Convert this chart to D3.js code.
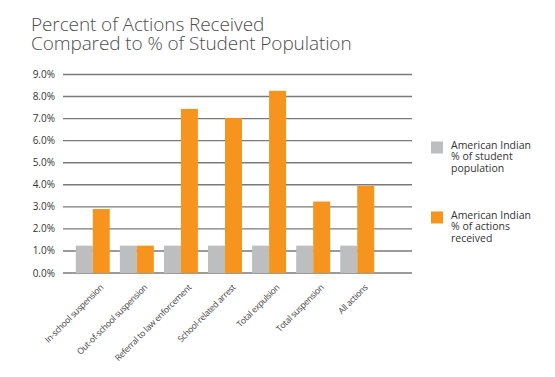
<!DOCTYPE html>
<html>
<head>
<meta charset="utf-8">
<script src="https://cdn.jsdelivr.net/npm/d3@7"></script>
<style>
  body { margin: 0; background: #fff; }
  svg text { font-family: "Open Sans", "Noto Sans", sans-serif; }
</style>
</head>
<body>
<div id="chart"></div>
<script>
// data
const categories = ["In-school suspension", "Out-of-school suspension", "Referral to law enforcement",
  "School-related arrest", "Total expulsion", "Total suspension", "All actions"];
const studentPct = [1.24, 1.24, 1.24, 1.24, 1.24, 1.24, 1.24];
const actionsPct = [2.9, 1.24, 7.44, 7.03, 8.26, 3.24, 3.95];
const yTicks = [0, 1, 2, 3, 4, 5, 6, 7, 8, 9];
const seriesNames = [["American Indian", "% of student", "population"],
  ["American Indian", "% of actions", "received"]];
const colors = ["#bcbec0", "#f7941d"];

const width = 555, height = 377;
const svg = d3.select("#chart").append("svg")
  .attr("width", width).attr("height", height);

// title
const title = svg.append("text").attr("fill", "#4d4d4d")
  .style("font-size", "19px").style("font-weight", 300)
  .style("letter-spacing", "-0.1px");
title.append("tspan").attr("x", 31).attr("y", 31).text("Percent of Actions Received");
title.append("tspan").attr("x", 31).attr("y", 49.5).text("Compared to % of Student Population");

const gridLeft = 63, gridRight = 412;
const y = d3.scaleLinear().domain([0, 9]).range([273, 74.5]);
const x = d3.scaleBand().domain(categories).range([63, 387])
  .paddingInner(0.23).paddingOuter(0.29);
const x1 = d3.scaleBand().domain([0, 1]).range([0, x.bandwidth()]);

// gridlines
svg.append("g").selectAll("line").data(yTicks).join("line")
  .attr("x1", gridLeft).attr("x2", gridRight)
  .attr("y1", d => y(d)).attr("y2", d => y(d))
  .attr("stroke", "#7a7a7a").attr("stroke-width", 1.4);

svg.append("g").selectAll("text").data(yTicks).join("text")
  .attr("x", 55).attr("y", d => y(d) + 3.5)
  .attr("text-anchor", "end")
  .attr("fill", "#333").style("font-size", "10px")
  .text(d => d3.format(".1f")(d) + "%");

// bars
const groups = svg.append("g").selectAll("g").data(categories).join("g")
  .attr("transform", d => `translate(${x(d)},0)`);
groups.selectAll("rect")
  .data((d, i) => [studentPct[i], actionsPct[i]])
  .join("rect")
  .attr("x", (d, j) => x1(j))
  .attr("width", x1.bandwidth())
  .attr("y", d => y(d))
  .attr("height", d => y(0) - y(d))
  .attr("fill", (d, j) => colors[j]);

// category labels, rotated
svg.append("g").selectAll("text").data(categories).join("text")
  .attr("transform", d => `translate(${x(d) + x.bandwidth() / 2 + 11},${288}) rotate(-45)`)
  .attr("text-anchor", "end")
  .attr("fill", "#444").style("font-size", "8.6px")
  .style("letter-spacing", "-0.3px")
  .text(d => d);

// legend
const legendY = [141.5, 211.5];
const legend = svg.append("g").selectAll("g").data(seriesNames).join("g")
  .attr("transform", (d, i) => `translate(431,${legendY[i]})`);
legend.append("rect").attr("width", 12).attr("height", 12)
  .attr("fill", (d, i) => colors[i]);
legend.append("text")
  .attr("fill", "#333").style("font-size", "10.5px")
  .selectAll("tspan").data(d => d).join("tspan")
  .attr("x", 20).attr("y", (d, k) => 7 + k * 11.7)
  .text(d => d);
</script>
</body>
</html>
